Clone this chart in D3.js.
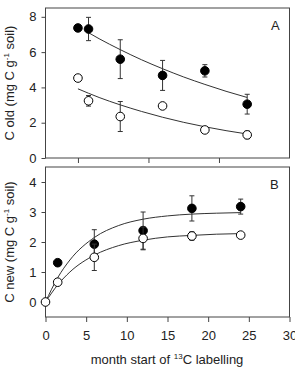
<!DOCTYPE html>
<html>
<head>
<meta charset="utf-8">
<script src="https://cdn.jsdelivr.net/npm/d3@7"></script>
<style>
  body { margin: 0; background: #fff; }
  text { font-family: "Liberation Sans", Arial, sans-serif; fill: #222; }
</style>
</head>
<body>
<div id="chart"></div>
<script>
// sampling months
var monthsA = [0, 1.5, 6, 12, 18, 24]
var monthsB = [1.5, 6, 12, 18, 24]

// panel A: C old
var oldFilled = [7.37, 7.31, 5.6, 4.68, 4.94, 3.05]
var oldFilledErr = [0, 0.66, 1.1, 0.85, 0.35, 0.56]
var oldOpen = [4.53, 3.24, 2.35, 2.95, 1.59, 1.31]
var oldOpenErr = [0, 0.3, 0.85, 0.12, 0.08, 0.22]

// fitted curves
var fitOldFilledX = [1.5, 3, 6, 9, 12, 15, 18, 21, 24]
var fitOldFilledY = [7.1, 6.76, 6.14, 5.57, 5.06, 4.59, 4.17, 3.78, 3.43]
var fitOldOpenX = [0, 3, 6, 9, 12, 15, 18, 21, 24]
var fitOldOpenY = [3.92, 3.43, 3.01, 2.64, 2.31, 2.02, 1.77, 1.55, 1.36]

// panel B: C new
var newFilled = [1.31, 1.93, 2.38, 3.12, 3.18]
var newFilledErr = [0.1, 0.48, 0.62, 0.42, 0.25]
var newOpen = [0.66, 1.49, 2.12, 2.2, 2.23]
var newOpenErr = [0.05, 0.44, 0.38, 0.14, 0.04]
var originX = [0], originY = [0]

var fitNewX = [0, 1.5, 3, 6, 9, 12, 15, 18, 21, 24]
var fitNewFilledY = [0, 0.81, 1.40, 2.15, 2.55, 2.76, 2.87, 2.93, 2.96, 2.98]
var fitNewOpenY = [0, 0.57, 1.00, 1.56, 1.88, 2.06, 2.17, 2.22, 2.26, 2.28]

var ticksA_Y = [0, 2, 4, 6, 8]
var ticksA_X = [0, 10, 20]
var ticksB_Y = [0, 1, 2, 3, 4]
var ticksB_X = [0, 5, 10, 15, 20, 25, 30]

var W = 295, H = 373
var left = 45.5, right = 289.5
var svg = d3.select("#chart").append("svg").attr("width", W).attr("height", H)

var axisColor = "#444"

function panel(cfg) {
    var g = svg.append("g")
    var x = d3.scaleLinear().domain(cfg.xDomain).range([left, right])
    var y = d3.scaleLinear().domain(cfg.yDomain).range([cfg.bottom, cfg.top])

    // frame
    g.append("rect")
        .attr("x", left).attr("y", cfg.top)
        .attr("width", right - left).attr("height", cfg.bottom - cfg.top)
        .attr("fill", "none").attr("stroke", axisColor).attr("stroke-width", 1)

    var yAxis = g.append("g").attr("transform", "translate(" + left + ",0)")
        .call(d3.axisLeft(y).tickValues(cfg.yTicks).tickSize(4).tickPadding(5)
            .tickFormat(d3.format("d")))
    var xAxis = g.append("g").attr("transform", "translate(0," + cfg.bottom + ")")
        .call(d3.axisBottom(x).tickValues(cfg.xTicks).tickSize(5).tickPadding(9)
            .tickFormat(cfg.xLabels ? d3.format("d") : ""))
    ;[yAxis, xAxis].forEach(function(a){
        a.select(".domain").remove()
        a.selectAll("line").attr("stroke", axisColor)
        a.selectAll("text").attr("font-size", 13).attr("fill", "#222")
    })

    var line = d3.line().x(function(d){ return x(d[0]) }).y(function(d){ return y(d[1]) })
        .curve(d3.curveMonotoneX)
    cfg.fits.forEach(function(f){
        g.append("path")
            .datum(d3.zip(f[0], f[1]))
            .attr("d", line)
            .attr("fill", "none").attr("stroke", "#333").attr("stroke-width", 1)
    })

    cfg.series.forEach(function(s){
        var data = d3.zip(s.x, s.y, s.err)
        var eb = g.append("g")
        data.filter(function(d){ return d[2] > 0 }).forEach(function(d){
            var cx = x(d[0]), y1 = y(d[1] + d[2]), y2 = y(d[1] - d[2])
            eb.append("line").attr("x1", cx).attr("x2", cx).attr("y1", y1).attr("y2", y2)
                .attr("stroke", "#333").attr("stroke-width", 1)
            ;[y1, y2].forEach(function(yy){
                eb.append("line").attr("x1", cx - 2.5).attr("x2", cx + 2.5)
                    .attr("y1", yy).attr("y2", yy)
                    .attr("stroke", "#333").attr("stroke-width", 1)
            })
        })
        g.selectAll(null).data(data).enter().append("circle")
            .attr("cx", function(d){ return x(d[0]) })
            .attr("cy", function(d){ return y(d[1]) })
            .attr("r", 4.3)
            .attr("fill", s.filled ? "#000" : "#fff")
            .attr("stroke", "#000").attr("stroke-width", 1)
    })

    g.append("text").attr("x", cfg.letterX).attr("y", cfg.top + 22)
        .attr("font-size", 13).text(cfg.letter)

    g.append("text")
        .attr("transform", "translate(14," + ((cfg.top + cfg.bottom) / 2) + ") rotate(-90)")
        .attr("text-anchor", "middle").attr("font-size", 13)
        .html(cfg.title + ' (mg C g<tspan dy="-5" font-size="8">-1</tspan><tspan dy="5"> soil)</tspan>')
}

panel({
    top: 8, bottom: 158,
    xDomain: [-4.6, 30], yDomain: [0, 8.5],
    xTicks: ticksA_X, yTicks: ticksA_Y, xLabels: false,
    fits: [[fitOldFilledX, fitOldFilledY], [fitOldOpenX, fitOldOpenY]],
    series: [
        { x: monthsA, y: oldOpen, err: oldOpenErr, filled: false },
        { x: monthsA, y: oldFilled, err: oldFilledErr, filled: true }
    ],
    letter: "A", letterX: 271, title: "C old"
})

panel({
    top: 167, bottom: 317,
    xDomain: [0, 30], yDomain: [-0.5, 4.5],
    xTicks: ticksB_X, yTicks: ticksB_Y, xLabels: true,
    fits: [[fitNewX, fitNewFilledY], [fitNewX, fitNewOpenY]],
    series: [
        { x: monthsB, y: newFilled, err: newFilledErr, filled: true },
        { x: monthsB, y: newOpen, err: newOpenErr, filled: false },
        { x: originX, y: originY, err: [0], filled: false }
    ],
    letter: "B", letterX: 270, title: "C new"
})

svg.append("text").attr("x", 167).attr("y", 364).attr("text-anchor", "middle")
    .attr("font-size", 13)
    .html('month start of <tspan dy="-5" font-size="8">13</tspan><tspan dy="5">C labelling</tspan>')
</script>
</body>
</html>
